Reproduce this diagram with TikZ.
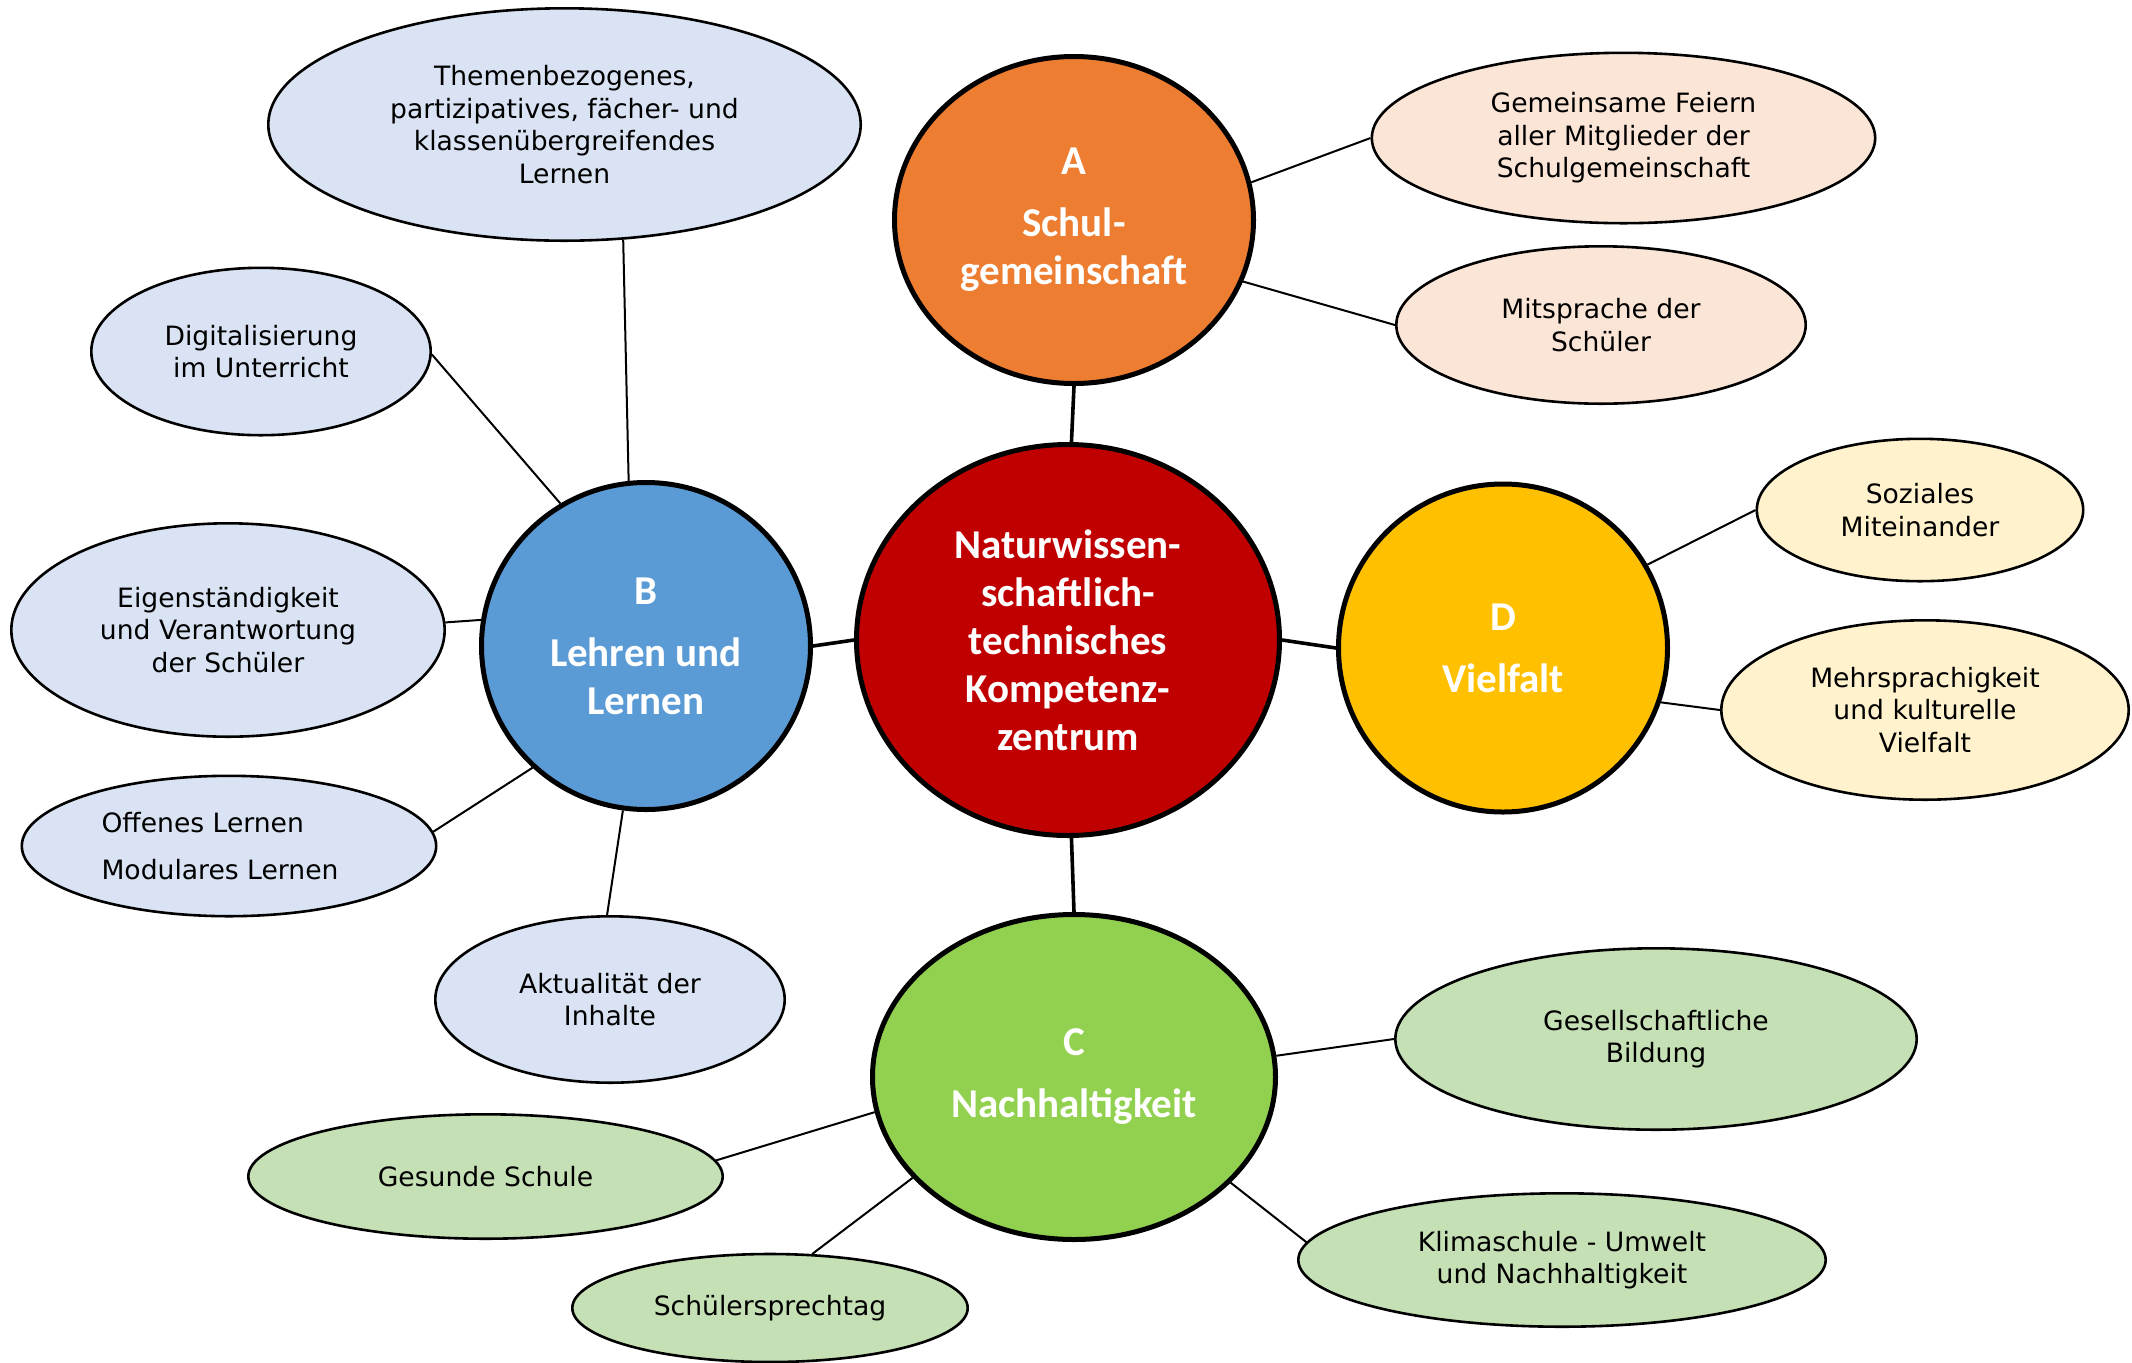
\documentclass[tikz,border=0pt]{standalone}
\usepackage{fontspec}
\setmainfont{DejaVu Sans}
\newfontfamily\calibri{Carlito}
\usetikzlibrary{shapes.geometric}

\definecolor{hubred}{HTML}{C00000}
\definecolor{aorange}{HTML}{ED7D31}
\definecolor{bblue}{HTML}{5B9BD5}
\definecolor{cgreen}{HTML}{92D050}
\definecolor{dyellow}{HTML}{FFC000}
\definecolor{lblue}{HTML}{DAE3F3}
\definecolor{lorange}{HTML}{FBE5D6}
\definecolor{lgreen}{HTML}{C5E0B4}
\definecolor{lyellow}{HTML}{FFF2CC}

\begin{document}
\begin{tikzpicture}[x=0.5pt,y=-0.5pt,
  hubnode/.style={ellipse, draw=black, line width=2.5pt, text=white, align=center,
    inner sep=0pt, font=\calibri\bfseries\fontsize{20.5}{24}\selectfont},
  leaf/.style={ellipse, draw=black, line width=1.3pt, align=center, inner sep=0pt,
    font=\fontsize{13.3}{16.3}\selectfont},
  link/.style={line width=1pt},
  spoke/.style={line width=1.8pt}]

\useasboundingbox (0,0) rectangle (2132,1362);

% central topic and the four fields
\node[hubnode, fill=hubred, minimum width=211.5pt, minimum height=195.5pt] (M) at (1068,640)
  {Naturwissen-\\schaftlich-\\technisches\\Kompetenz-\\zentrum};
\node[hubnode, fill=aorange, minimum width=179.5pt, minimum height=163.5pt] (A) at (1074,220)
  {A\\[7pt]Schul-\\gemeinschaft};
\node[hubnode, fill=bblue, minimum width=164.5pt, minimum height=163.5pt] (B) at (646,646)
  {B\\[7pt]Lehren und\\Lernen};
\node[hubnode, fill=dyellow, minimum width=164.5pt, minimum height=164pt] (D) at (1503,648)
  {D\\[7pt]Vielfalt};
\node[hubnode, fill=cgreen, minimum width=201.5pt, minimum height=162.5pt] (C) at (1074,1077)
  {C\\[7pt]Nachhaltigkeit};

% A: Schulgemeinschaft
\node[leaf, fill=lorange, minimum width=251.7pt, minimum height=85.2pt] (Gem) at (1623.5,138)
  {Gemeinsame Feiern\\aller Mitglieder der\\Schulgemeinschaft};
\node[leaf, fill=lorange, minimum width=204.7pt, minimum height=78.7pt] (Mit) at (1601,325)
  {Mitsprache der\\Schüler};

% B: Lehren und Lernen
\node[leaf, fill=lblue, minimum width=296.2pt, minimum height=116.2pt] (T) at (564.5,124.5)
  {Themenbezogenes,\\partizipatives, fächer- und\\klassenübergreifendes\\Lernen};
\node[leaf, fill=lblue, minimum width=169.7pt, minimum height=83.7pt] (Dig) at (261,351.5)
  {Digitalisierung\\im Unterricht};
\node[leaf, fill=lblue, minimum width=216.7pt, minimum height=106.7pt] (Eig) at (228,630)
  {Eigenständigkeit\\und Verantwortung\\der Schüler};
\node[leaf, fill=lblue, minimum width=207.2pt, minimum height=70.2pt, align=left] (Off) at (229,846)
  {Offenes Lernen\\[7.5pt]Modulares Lernen\hspace*{9pt}};
\node[leaf, fill=lblue, minimum width=174.7pt, minimum height=83.2pt] (Akt) at (610,999.5)
  {Aktualität der\\Inhalte};

% D: Vielfalt
\node[leaf, fill=lyellow, minimum width=163.2pt, minimum height=71.2pt] (Soz) at (1920,510)
  {Soziales\\Miteinander};
\node[leaf, fill=lyellow, minimum width=203.7pt, minimum height=89.7pt] (Mehr) at (1925,710)
  {Mehrsprachigkeit\\und kulturelle\\Vielfalt};

% C: Nachhaltigkeit
\node[leaf, fill=lgreen, minimum width=260.7pt, minimum height=90.7pt] (Ges) at (1656,1039)
  {Gesellschaftliche\\Bildung};
\node[leaf, fill=lgreen, minimum width=263.7pt, minimum height=66.7pt] (Klima) at (1562,1260)
  {Klimaschule - Umwelt\\und Nachhaltigkeit};
\node[leaf, fill=lgreen, minimum width=237.2pt, minimum height=62.2pt] (Gesunde) at (485.5,1176.5)
  {Gesunde Schule};
\node[leaf, fill=lgreen, minimum width=197.7pt, minimum height=54pt] (Sprech) at (770,1308)
  {Schülersprechtag};

% spokes from the centre
\draw[spoke] (A.-90.3) -- (M.89);
\draw[spoke] (M.-89) -- (C.90.3);
\draw[spoke] (B.east) -- (M.west);
\draw[spoke] (M.east) -- (D.west);

% branches
\draw[link] (A.12) -- (Gem.180);
\draw[link] (A.-20) -- (Mit.180);
\draw[link] (B.96.6) -- (T.-63.6);
\draw[link] (B.121.4) -- (Dig.-1);
\draw[link] (B.171) -- (Eig.2.3);
\draw[link] (B.227) -- (Off.4.6);
\draw[link] (B.-98.4) -- (Akt.92.4);
\draw[link] (D.30) -- (Soz.180);
\draw[link] (D.-19) -- (Mehr.180);
\draw[link] (C.6.6) -- (Ges.180);
\draw[link] (C.-34.3) -- (Klima.176.7);
\draw[link] (C.190.7) -- (Gesunde.4.7);
\draw[link] (C.212.2) -- (Sprech.52.8);
\end{tikzpicture}
\end{document}
